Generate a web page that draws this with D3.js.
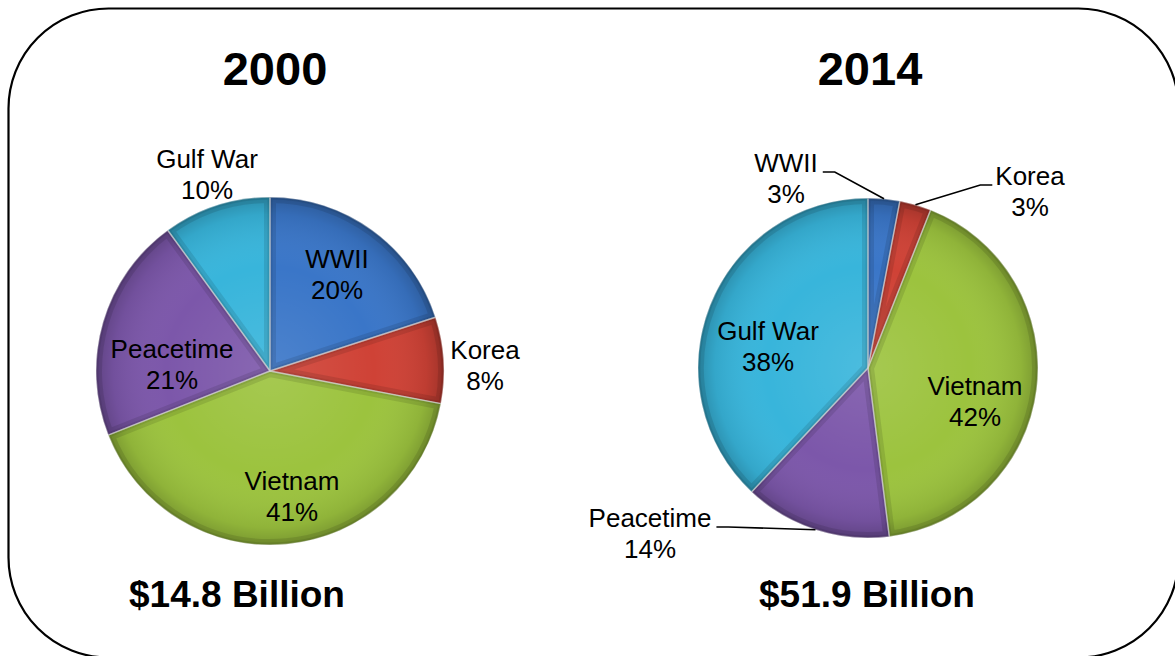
<!DOCTYPE html>
<html>
<head>
<meta charset="utf-8">
<script src="https://cdn.jsdelivr.net/npm/d3@7/dist/d3.min.js"></script>
<style>
  html, body { margin: 0; padding: 0; background: #ffffff; }
  svg { display: block; }
  text { font-family: "Liberation Sans", Arial, sans-serif; fill: #000; }
</style>
</head>
<body>
<svg id="chart" width="1175" height="656"></svg>
<script>
// Spending by service era (share of total), two years side by side
const categories = ["WWII", "Korea", "Vietnam", "Peacetime", "Gulf War"];
const share2000 = [20, 8, 41, 21, 10];
const share2014 = [3, 3, 42, 14, 38];
const years = ["2000", "2014"];
const totals = ["$14.8 Billion", "$51.9 Billion"];

// Styling
const sliceColors = ["#3a76c8", "#cf4236", "#9cc33e", "#7c57aa", "#38b5db"];
const W = 1175, H = 656;

// Layout of each pie and its label placements (offsets from the pie centre;
// y is the first line's baseline). Outside labels get leader lines.
const pieLayout = [
  {
    cx: 270, cy: 371, r: 174, titleX: 275, totalX: 237,
    labels: [
      { dx: 67, dy: -103 },
      { dx: 215, dy: -12 },
      { dx: 22, dy: 119 },
      { dx: -98, dy: -13 },
      { dx: -63, dy: -203 }
    ]
  },
  {
    cx: 868, cy: 368, r: 170, titleX: 870, totalX: 867,
    labels: [
      { dx: -82, dy: -196, leader: "right" },
      { dx: 162, dy: -183, leader: "left" },
      { dx: 107, dy: 27 },
      { dx: -218, dy: 159, leader: "right" },
      { dx: -100, dy: -28 }
    ]
  }
];
const seriesValues = [share2000, share2014];

const svg = d3.select("#chart");
const defs = svg.append("defs");

// Rounded frame around both charts
svg.append("rect")
  .attr("x", 8.5).attr("y", 8.5)
  .attr("width", 1170).attr("height", 649)
  .attr("rx", 100).attr("ry", 100)
  .attr("fill", "none").attr("stroke", "#000").attr("stroke-width", 2.2);

// Shared gradient for the bevelled look
const rim = defs.append("radialGradient").attr("id", "rimShade")
  .attr("cx", "50%").attr("cy", "50%").attr("r", "50%");
rim.append("stop").attr("offset", "0%").attr("stop-color", "#fff").attr("stop-opacity", 0.10);
rim.append("stop").attr("offset", "60%").attr("stop-color", "#fff").attr("stop-opacity", 0.0);
rim.append("stop").attr("offset", "90%").attr("stop-color", "#000").attr("stop-opacity", 0.08);
rim.append("stop").attr("offset", "100%").attr("stop-color", "#000").attr("stop-opacity", 0.22);

const pie = d3.pie().sort(null).value(d => d).startAngle(0).endAngle(2 * Math.PI);
const color = d3.scaleOrdinal().domain(categories).range(sliceColors);

const fontLabel = 26, lineGap = 31;

pieLayout.forEach((L, pi) => {
  const values = seriesValues[pi];
  const arcs = pie(values);
  const arc = d3.arc().innerRadius(0).outerRadius(L.r);
  const g = svg.append("g").attr("transform", `translate(${L.cx},${L.cy})`);

  arcs.forEach((a, i) => {
    const clipId = `clip-${pi}-${i}`;
    defs.append("clipPath").attr("id", clipId)
      .append("path").attr("d", arc(a)).attr("transform", `translate(${L.cx},${L.cy})`);
    g.append("path").attr("d", arc(a)).attr("fill", color(categories[i]));
    // inner edge shading of each slice
    const cg = svg.append("g").attr("clip-path", `url(#${clipId})`);
    cg.append("path").attr("d", arc(a)).attr("transform", `translate(${L.cx},${L.cy})`)
      .attr("fill", "none").attr("stroke", "#000").attr("stroke-opacity", 0.10).attr("stroke-width", 12);
    cg.append("path").attr("d", arc(a)).attr("transform", `translate(${L.cx},${L.cy})`)
      .attr("fill", "none").attr("stroke", "#000").attr("stroke-opacity", 0.08).attr("stroke-width", 5);
  });

  // radial shading over the whole pie
  g.append("circle").attr("r", L.r).attr("fill", "url(#rimShade)");

  // light separators between slices
  g.selectAll("path.sep").data(arcs).enter().append("path")
    .attr("class", "sep").attr("d", arc)
    .attr("fill", "none").attr("stroke", "#fff").attr("stroke-opacity", 0.5)
    .attr("stroke-width", 1.4).attr("stroke-linejoin", "round");

  // Year title
  svg.append("text").attr("x", L.titleX).attr("y", 85)
    .attr("text-anchor", "middle").attr("font-size", 47).attr("font-weight", "bold")
    .text(years[pi]);

  // Total under the pie
  svg.append("text").attr("x", L.totalX).attr("y", 607)
    .attr("text-anchor", "middle").attr("font-size", 37).attr("font-weight", "bold")
    .text(totals[pi]);

  // Data labels
  arcs.forEach((a, i) => {
    const lp = L.labels[i];
    const x = L.cx + lp.dx, y = L.cy + lp.dy;
    const t = svg.append("text").attr("text-anchor", "middle").attr("font-size", fontLabel);
    const t1 = t.append("tspan").attr("x", x).attr("y", y).text(categories[i]);
    t.append("tspan").attr("x", x).attr("y", y + lineGap).text(d3.format(".0f")(values[i]) + "%");

    if (lp.leader) {
      const w = t1.node().getComputedTextLength();
      const mid = (a.startAngle + a.endAngle) / 2;
      const px = L.cx + L.r * Math.sin(mid);
      const py = L.cy - L.r * Math.cos(mid);
      const sx = lp.leader === "right" ? x + w / 2 + 5 : x - w / 2 - 3;
      const sy = y;
      const kx = lp.leader === "right" ? sx + 12 : sx - 12;
      svg.append("path")
        .attr("d", d3.line()([[sx, sy], [kx, sy], [px, py]]))
        .attr("fill", "none").attr("stroke", "#000").attr("stroke-width", 1.6);
    }
  });
});
</script>
</body>
</html>
